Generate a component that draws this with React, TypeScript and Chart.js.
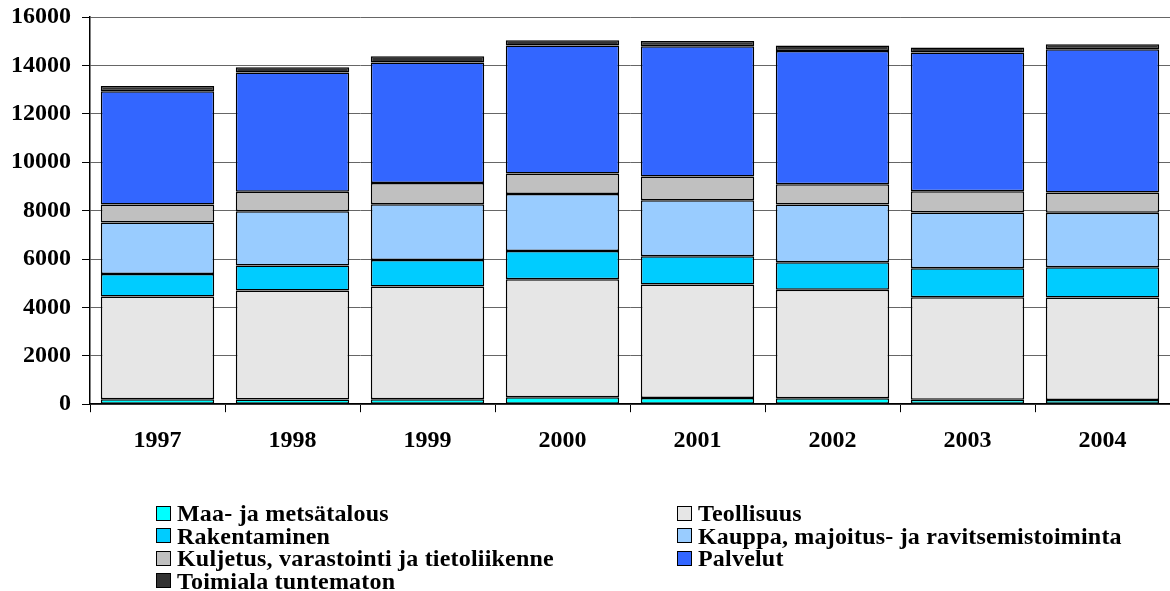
import React, { useEffect, useRef } from "react";
import { Chart, registerables } from "chart.js";

Chart.register(...registerables);

const years = ["1997", "1998", "1999", "2000", "2001", "2002", "2003", "2004"];
const maaMetsatalous = [200, 195, 207, 290, 260, 248, 180, 170];
const teollisuus = [4250, 4505, 4657, 4875, 4685, 4477, 4240, 4240];
const rakentaminen = [935, 1030, 1099, 1170, 1171, 1143, 1200, 1252];
const kauppa = [2125, 2245, 2302, 2355, 2314, 2382, 2300, 2244];
const kuljetus = [740, 800, 880, 843, 979, 840, 880, 843];
const palvelut = [4680, 4930, 4975, 5287, 5384, 5510, 5733, 5922];
const tuntematon = [220, 220, 260, 220, 220, 220, 207, 206];
const yTicks = [0, 2000, 4000, 6000, 8000, 10000, 12000, 14000, 16000];

const seriesNames = [
  "Maa- ja metsätalous",
  "Teollisuus",
  "Rakentaminen",
  "Kauppa, majoitus- ja ravitsemistoiminta",
  "Kuljetus, varastointi ja tietoliikenne",
  "Palvelut",
  "Toimiala tuntematon",
];
const seriesData = [maaMetsatalous, teollisuus, rakentaminen, kauppa, kuljetus, palvelut, tuntematon];
const seriesColors = ["#00FFFF", "#E6E6E6", "#00CCFF", "#99CCFF", "#C0C0C0", "#3366FF", "#333333"];

const FONT = "'Times New Roman', 'Liberation Serif', serif";

const legendOrder = [0, 1, 2, 3, 4, 5, 6];

export default function App() {
  const ref = useRef<HTMLCanvasElement | null>(null);
  useEffect(() => {
    document.body.style.margin = "0";
    if (!ref.current) return;
    const chart = new Chart(ref.current, {
      type: "bar",
      data: {
        labels: years,
        datasets: seriesNames.map((name, i) => ({
          label: name,
          data: seriesData[i],
          backgroundColor: seriesColors[i],
          borderColor: "#000000",
          borderWidth: 1.5,
          borderSkipped: false,
          barPercentage: 0.84,
          categoryPercentage: 1,
        })),
      },
      options: {
        animation: false,
        responsive: false,
        maintainAspectRatio: false,
        layout: { padding: { left: 0, right: 0, top: 17, bottom: 122 } },
        plugins: { legend: { display: false }, tooltip: { enabled: false } },
        scales: {
          x: {
            stacked: true,
            grid: {
              display: true,
              drawOnChartArea: false,
              drawTicks: true,
              tickLength: 8,
              color: "#000000",
              offset: true,
            },
            border: { display: true, color: "#000000", width: 1.5 },
            ticks: {
              color: "#000000",
              padding: 14,
              font: { family: FONT, size: 24, weight: "bold" },
            },
          },
          y: {
            stacked: true,
            min: 0,
            max: 16000,
            afterBuildTicks: (scale: any) => {
              scale.ticks = yTicks.map((v) => ({ value: v }));
            },
            afterFit: (scale: any) => {
              scale.width = 90;
              scale.paddingTop = 0;
              scale.paddingBottom = 0;
            },
            grid: {
              color: "#666666",
              lineWidth: 1,
              drawTicks: true,
              tickLength: 8,
              tickColor: "#000000",
            },
            border: { display: true, color: "#000000", width: 1.5 },
            ticks: {
              color: "#000000",
              padding: 11,
              font: { family: FONT, size: 24, weight: "bold" },
              callback: (v: any) => String(v),
            },
          },
        },
      },
    });
    return () => chart.destroy();
  }, []);

  const rows: number[][] = [];
  for (let i = 0; i < legendOrder.length; i += 2) rows.push(legendOrder.slice(i, i + 2));

  return (
    <div style={{ position: "fixed", left: 0, top: 0, width: 1170, height: 591, background: "#fff" }}>
      <canvas ref={ref} width={1170} height={591} style={{ position: "absolute", left: 0, top: 0 }} />
      {rows.map((row, r) =>
        row.map((idx, c) => (
          <div
            key={idx}
            style={{
              position: "absolute",
              left: c === 0 ? 156 : 677,
              top: 502 + r * 22.5,
              height: 22,
              display: "flex",
              alignItems: "center",
              fontFamily: FONT,
              fontWeight: "bold",
              fontSize: 24,
              letterSpacing: "0.2px",
              color: "#000",
              whiteSpace: "nowrap",
              lineHeight: "22px",
            }}
          >
            <span
              style={{
                display: "inline-block",
                width: 15,
                height: 15,
                background: seriesColors[idx],
                border: "1.5px solid #000",
                marginRight: 6,
                boxSizing: "border-box",
              }}
            />
            {seriesNames[idx]}
          </div>
        ))
      )}
    </div>
  );
}
